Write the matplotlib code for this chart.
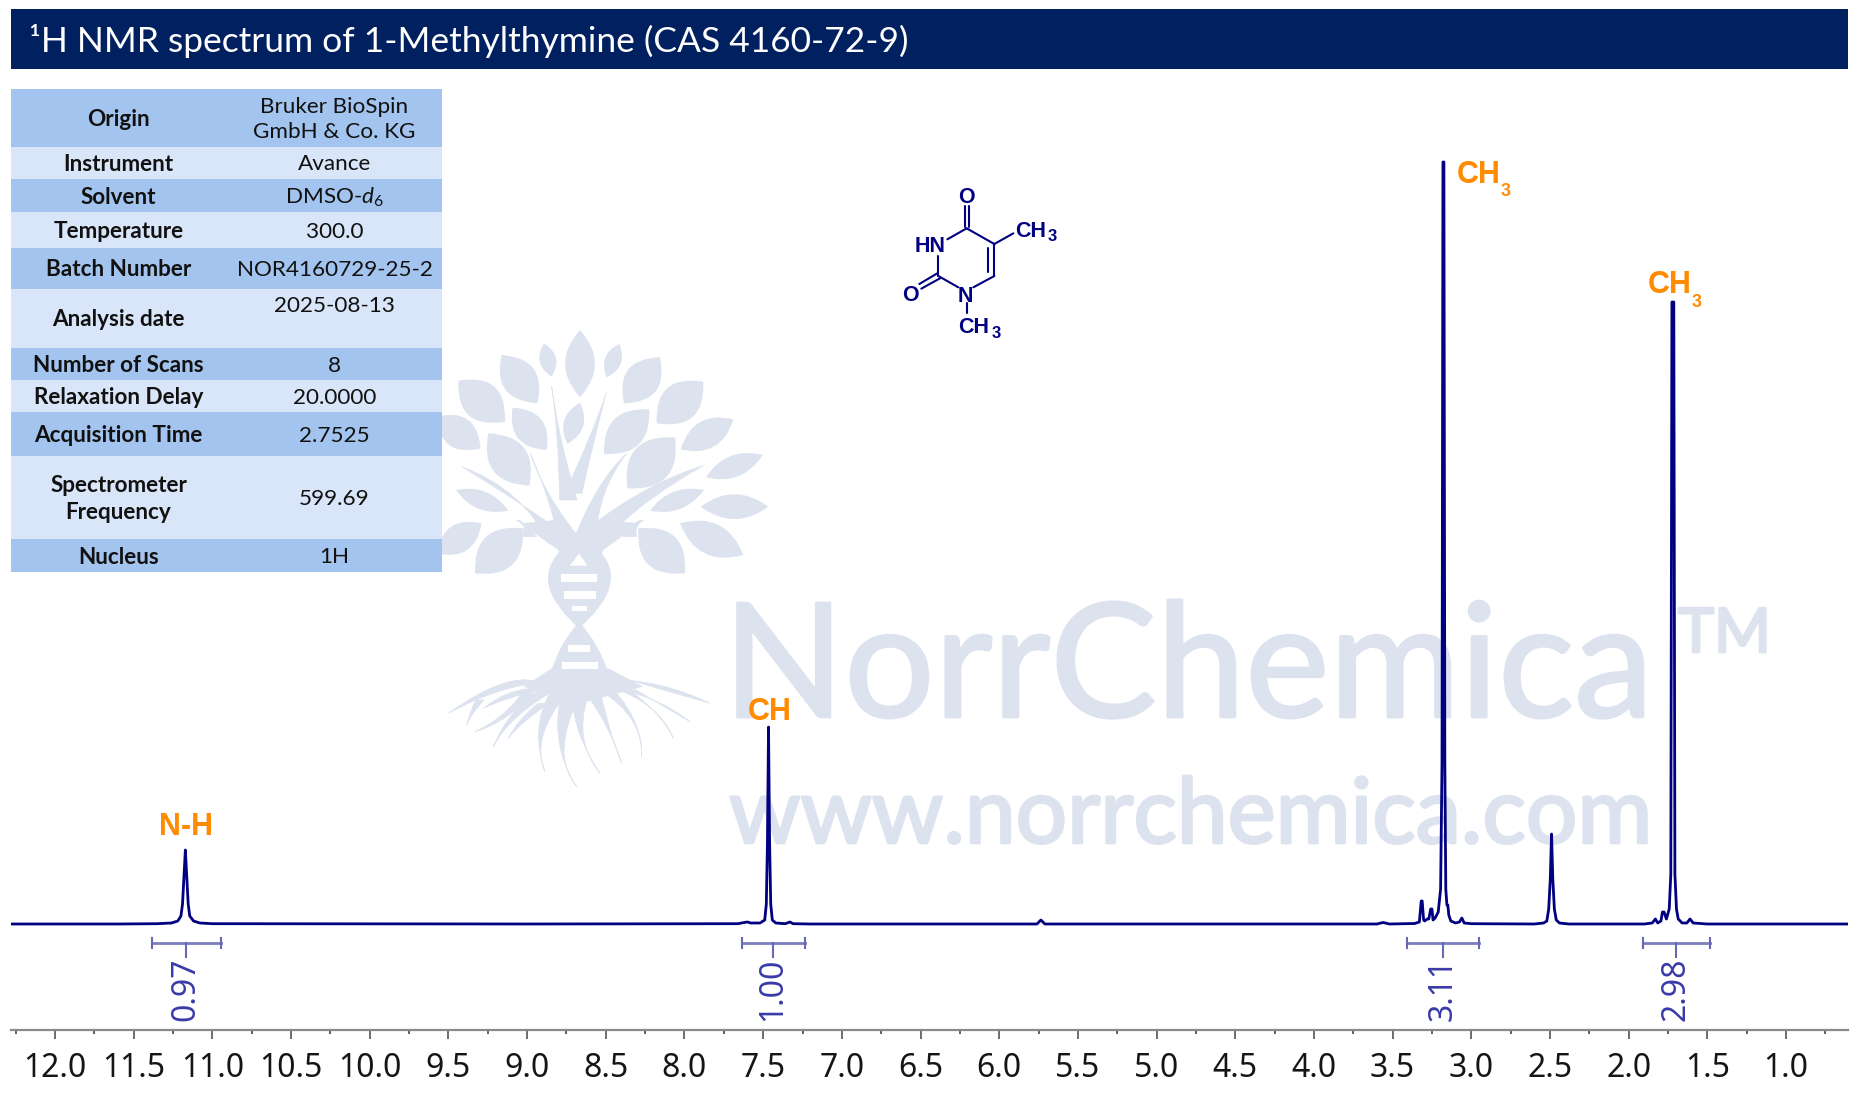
import matplotlib
matplotlib.use("Agg")
import matplotlib.pyplot as plt
import matplotlib.patheffects as pe
from matplotlib.path import Path
from matplotlib.patches import PathPatch, Rectangle, Polygon
from matplotlib.ticker import MultipleLocator, FormatStrFormatter

W, H = 1866, 1094

# spectrum (height is in pixels above the baseline)
spectrum_ppm = [12.28, 11.6, 11.35, 11.26, 11.22, 11.20, 11.19, 11.18, 11.172, 11.164, 11.154, 11.144, 11.12,
                11.08, 11.0, 9.0, 7.66, 7.62, 7.6, 7.58, 7.52, 7.49, 7.48, 7.473, 7.466, 7.459, 7.452, 7.442,
                7.42, 7.36, 7.33, 7.31, 7.2, 5.76, 5.735, 5.71, 3.6, 3.56, 3.52, 3.36, 3.33, 3.318, 3.312, 3.303,
                3.296, 3.28, 3.27, 3.258, 3.25, 3.243, 3.23, 3.21, 3.195, 3.186, 3.18, 3.174, 3.168, 3.162, 3.155,
                3.149, 3.143, 3.13, 3.1, 3.075, 3.06, 3.045, 3.0, 2.6, 2.54, 2.52, 2.508, 2.498, 2.49, 2.482,
                2.472, 2.46, 2.44, 2.38, 1.9, 1.85, 1.83, 1.815, 1.795, 1.785, 1.775, 1.76, 1.742, 1.732, 1.725,
                1.719, 1.713, 1.706, 1.696, 1.685, 1.66, 1.63, 1.61, 1.59, 1.5, 0.606]
spectrum_height = [0, 0, 0.3, 1, 3, 8, 20, 50, 74, 50, 20, 8, 3,
                   1, 0.3, 0, 0.3, 1.5, 2, 1, 1, 4, 20, 80, 197, 80, 20, 4,
                   1, 0.3, 2, 0.3, 0, 0, 4, 0, 0, 1.5, 0, 0.5, 2, 23, 23, 4,
                   3, 5, 5, 15, 15, 4, 6, 12, 35, 160, 762, 762, 160, 35, 19,
                   19, 9, 3, 1, 2, 6, 1, 0.3, 0, 1, 3, 15, 45, 90, 45,
                   15, 4, 1, 0, 0, 1, 5, 1, 3, 12, 12, 5, 15, 50, 622,
                   622, 622, 50, 15, 5, 1, 1, 5, 1, 0, 0]

integral_start = [11.384, 7.634, 3.41, 1.91]
integral_end = [10.945, 7.234, 2.95, 1.48]
integral_center = [11.17, 7.437, 3.18, 1.70]
integral_values = ["0.97", "1.00", "3.11", "2.98"]

table_rows = ["Origin", "Instrument", "Solvent", "Temperature", "Batch Number", "Analysis date",
              "Number of Scans", "Relaxation Delay", "Acquisition Time", "Spectrometer\nFrequency", "Nucleus"]
table_vals = ["Bruker BioSpin\nGmbH & Co. KG", "Avance", r"DMSO-$\mathit{d_6}$", "300.0", "NOR4160729-25-2",
              "2025-08-13", "8", "20.0000", "2.7525", "599.69", "1H"]
table_edges = [89, 147, 179, 212, 248, 289, 348, 380, 412, 456, 539, 572]

NAVY = "#000080"
ORANGE = "#FF8C00"
WM = "#DCE3EF"

plt.rcParams["font.family"] = "Lato"
plt.rcParams["mathtext.fontset"] = "custom"
plt.rcParams["mathtext.rm"] = "Lato"
plt.rcParams["mathtext.it"] = "Lato:italic"

fig = plt.figure(figsize=(W / 100, H / 100), dpi=100, facecolor="white")

# overlay in pixel coordinates for banner, table, logo, molecule
bg = fig.add_axes([0, 0, 1, 1], zorder=0)
bg.set_xlim(0, W)
bg.set_ylim(H, 0)
bg.axis("off")


# logo helpers, z coords come from a 3x crop of the logo
def z(px, py):
    return 430 + px / 3, 320 + py / 3


def leaf(base, tip, w):
    bx, by = z(*base)
    tx, ty = z(*tip)
    nx, ny = -(ty - by), tx - bx
    n = (nx ** 2 + ny ** 2) ** 0.5
    off = w / 3
    nx, ny = nx / n * off, ny / n * off
    mx, my = (bx + tx) / 2, (by + ty) / 2
    verts = [(bx, by), (mx + nx, my + ny), (tx, ty), (mx - nx, my - ny), (bx, by)]
    bg.add_patch(PathPatch(Path(verts, [Path.MOVETO, Path.CURVE3, Path.CURVE3, Path.CURVE3, Path.CURVE3]),
                           fc=WM, ec="none", zorder=1))


def wedge(base, ctrl, tip, w):
    bx, by = z(*base)
    cx, cy = z(*ctrl)
    tx, ty = z(*tip)
    w = w / 3
    verts = [(bx - w, by), (cx, cy - w / 2), (tx, ty), (cx, cy + w / 2), (bx + w, by), (bx - w, by)]
    codes = [Path.MOVETO, Path.CURVE3, Path.CURVE3, Path.CURVE3, Path.CURVE3, Path.LINETO]
    bg.add_patch(PathPatch(Path(verts, codes), fc=WM, ec=WM, lw=0.5, zorder=1))


logo_leaves = [
    ((450, 232), (450, 30), 90), ((365, 170), (342, 70), 50), ((530, 172), (568, 72), 50),
    ((322, 250), (215, 105), 105), ((582, 250), (690, 112), 105), ((225, 305), (85, 182), 115),
    ((680, 310), (820, 185), 115), ((350, 390), (248, 263), 90), ((522, 402), (658, 268), 105),
    ((412, 372), (450, 248), 60), ((752, 388), (910, 298), 85), ((152, 385), (20, 290), 95),
    ((298, 497), (175, 340), 115), ((592, 505), (735, 352), 125), ((828, 472), (998, 405), 65),
    ((235, 572), (78, 510), 55), ((660, 572), (822, 510), 55), ((812, 560), (1015, 560), 75),
    ((20, 700), (155, 610), 85), ((135, 760), (280, 625), 115), ((765, 760), (625, 625), 115),
    ((940, 705), (750, 610), 95),
]
for b, t, w in logo_leaves:
    leaf(b, t, w)

logo_branches = [
    ((415, 540), (385, 340), (365, 200), 26), ((430, 520), (490, 350), (530, 215), 26),
    ((415, 650), (350, 520), (300, 400), 30), ((465, 660), (500, 500), (590, 400), 34),
    ((400, 670), (280, 530), (95, 440), 44), ((510, 630), (650, 510), (820, 437), 44),
    ((300, 650), (290, 610), (260, 600), 20), ((600, 650), (610, 610), (640, 600), 20),
]
for b, c, t, w in logo_branches:
    wedge(b, c, t, w)

bg.add_patch(Polygon([z(270, 610), z(380, 600), z(420, 640), z(480, 640), z(530, 600), z(630, 610),
                      z(520, 690), z(515, 705), z(385, 705), z(385, 690)], fc=WM, ec="none", zorder=1))
# DNA lobes with pale rungs
bg.add_patch(PathPatch(Path([z(385, 700), z(300, 795), z(447, 925), z(595, 795), z(515, 700), z(385, 700)],
                            [Path.MOVETO, Path.CURVE3, Path.CURVE3, Path.CURVE3, Path.CURVE3, Path.LINETO]),
                       fc=WM, ec="none", zorder=1))
bg.add_patch(PathPatch(Path([z(447, 905), z(385, 975), z(362, 1060), z(535, 1060), z(510, 975), z(447, 905)],
                            [Path.MOVETO, Path.CURVE3, Path.CURVE3, Path.LINETO, Path.CURVE3, Path.CURVE3]),
                       fc=WM, ec="none", zorder=1))
rung_boxes = [(393, 762, 108, 24), (403, 814, 95, 22), (425, 858, 45, 16), (415, 975, 65, 20), (395, 1026, 110, 22)]
for rx, ry, rw, rh in rung_boxes:
    x0, y0 = z(rx, ry)
    bg.add_patch(Rectangle((x0, y0), rw / 3, rh / 3, fc="white", ec="none", zorder=1.1))
bg.add_patch(Polygon([z(420, 737), z(447, 700), z(472, 737)], fc="white", ec="none", zorder=1.1))

bg.add_patch(Polygon([z(365, 1045), z(535, 1045), z(640, 1100), z(450, 1150), z(280, 1100)], fc=WM, ec="none", zorder=1))
logo_roots = [
    ((350, 1085), (230, 1070), (55, 1180), 30), ((330, 1105), (230, 1120), (160, 1165), 22),
    ((370, 1100), (240, 1170), (190, 1280), 24), ((300, 1110), (230, 1200), (135, 1235), 18),
    ((385, 1120), (300, 1240), (345, 1355), 26), ((420, 1130), (360, 1290), (440, 1400), 28),
    ((450, 1130), (430, 1250), (510, 1360), 24), ((490, 1120), (540, 1230), (575, 1330), 22),
    ((530, 1110), (640, 1200), (635, 1310), 22), ((560, 1100), (690, 1160), (730, 1255), 22),
    ((550, 1075), (700, 1095), (840, 1150), 30), ((600, 1110), (700, 1150), (780, 1205), 18),
    ((150, 1140), (120, 1180), (110, 1215), 12), ((340, 1150), (260, 1210), (235, 1255), 16),
]
for b, c, t, w in logo_roots:
    wedge(b, c, t, w)

heavy = [pe.withStroke(linewidth=2, foreground=WM)]
bg.text(723, 717, "NorrChemica", color=WM, fontsize=114.5, va="baseline", ha="left", zorder=1, path_effects=heavy)
bg.text(1678, 652, "TM", color=WM, fontsize=44, va="baseline", ha="left", zorder=1, path_effects=heavy)
bg.text(729, 843, "www.norrchemica.com", color=WM, fontsize=65.5, va="baseline", ha="left", zorder=1, path_effects=heavy)

# banner
bg.add_patch(Rectangle((11, 9), 1848 - 11, 60, fc="#002060", ec="none", zorder=2))
bg.text(29, 52, "\u00b9H NMR spectrum of 1-Methylthymine (CAS 4160-72-9)", color="white", fontsize=25.45,
        va="baseline", ha="left", zorder=3)

# table
for i, (name, val) in enumerate(zip(table_rows, table_vals)):
    top, bottom = table_edges[i], table_edges[i + 1]
    bg.add_patch(Rectangle((11, top), 431, bottom - top, fc="#A3C4EE" if i % 2 == 0 else "#D9E5F8", ec="none", zorder=2))
    mid = (top + bottom) / 2 + 1.5
    bg.text(118.5, mid, name, fontsize=16.2, fontweight="bold", color="#111111", ha="center", va="center",
            linespacing=1.35, zorder=3)
    if name == "Analysis date":
        mid = 306
    bg.text(334.5, mid, val, fontsize=16.2, color="#111111", ha="center", va="center", linespacing=1.35, zorder=3)

# molecule, coordinates from a 3x crop


def m(px, py):
    return 860 + px / 3, 150 + py / 3


mol_bonds = [
    ((314, 168), (314, 232)), ((326, 168), (326, 232)), ((320, 235), (262, 268)), ((235, 318), (235, 378)),
    ((232, 370), (178, 402)), ((240, 385), (184, 416)), ((235, 378), (295, 412)), ((340, 412), (403, 378)),
    ((403, 378), (403, 282)), ((385, 365), (385, 295)), ((403, 282), (320, 235)), ((403, 282), (460, 250)),
    ((320, 460), (320, 490)),
]
for a, b in mol_bonds:
    bg.plot(*zip(m(*a), m(*b)), color=NAVY, lw=1.5, solid_capstyle="round", zorder=3)


def mol_text(px, py, s, size=15.5, ha="left"):
    x, y = m(px, py)
    bg.text(x, y, s, color=NAVY, fontsize=size, fontweight="bold", family="Liberation Sans", ha=ha,
            va="baseline", zorder=3)


mol_text(319, 160, "O", ha="center")
mol_text(165, 305, "HN")
mol_text(152, 452, "O", ha="center")
mol_text(316, 457, "N", ha="center")
mol_text(466, 260, "CH")
mol_text(563, 273, "3", 12)
mol_text(294, 548, "CH")
mol_text(396, 563, "3", 12)

# peak labels
peak_labels = [(159, 835, "N-H", None), (748, 720, "CH", None),
               (1457, 183, "CH", (1501, 196)), (1648, 293, "CH", (1692, 307))]
for lx, ly, s, sub in peak_labels:
    bg.text(lx, ly, s, color=ORANGE, fontsize=22, fontweight="bold", family="Liberation Sans", va="baseline", zorder=3)
    if sub:
        bg.text(sub[0], sub[1], "3", color=ORANGE, fontsize=13, fontweight="bold", family="Liberation Sans",
                va="baseline", zorder=3)

# spectrum axes
ax = fig.add_axes([11 / W, (H - 1030) / H, (1848 - 11) / W, (1030 - 100) / H], zorder=1)
ax.patch.set_alpha(0)
ax.plot(spectrum_ppm, spectrum_height, color=NAVY, lw=2, solid_joinstyle="round")

for a, b, c, v in zip(integral_start, integral_end, integral_center, integral_values):
    ax.plot([a, b], [-19, -19], color="#7C7EBE", lw=2)
    ax.plot([a, a], [-24, -14], color="#6668B4", lw=1.5)
    ax.plot([b, b], [-24, -14], color="#6668B4", lw=1.5)
    ax.plot([c, c], [-19, -33], color="#6668B4", lw=1.5)
    ax.text(c, -97, v, rotation=90, ha="center", va="bottom", color="#3A3AA8", fontsize=23, family="Noto Sans")

ax.set_xlim(12.28, 0.606)
ax.set_ylim(-106, 824)
ax.xaxis.set_major_locator(MultipleLocator(0.5))
ax.xaxis.set_minor_locator(MultipleLocator(0.25))
ax.xaxis.set_major_formatter(FormatStrFormatter("%.1f"))
ax.tick_params(axis="x", which="major", length=6.5, width=1.1, color="#444444", pad=9, labelsize=23)
ax.tick_params(axis="x", which="minor", length=3, width=1.1, color="#333333")
for lab in ax.get_xticklabels():
    lab.set_family("Noto Sans")
    lab.set_color("#151515")
ax.set_yticks([])
for s in ["top", "left", "right"]:
    ax.spines[s].set_visible(False)
ax.spines["bottom"].set_color("#8a8a8a")
ax.spines["bottom"].set_linewidth(1.6)

fig.savefig("out.png", dpi=100)
